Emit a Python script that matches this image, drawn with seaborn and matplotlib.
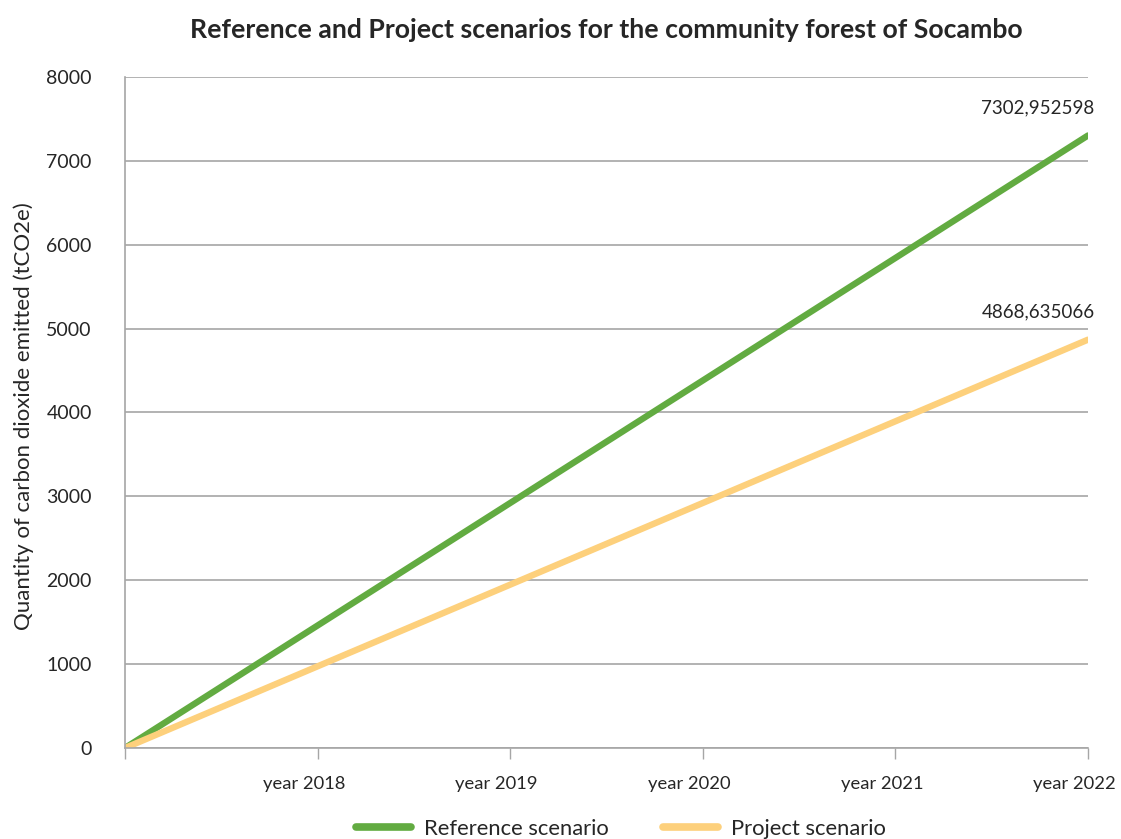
import matplotlib
matplotlib.use("Agg")
import matplotlib.pyplot as plt
import seaborn as sns
import pandas as pd

categories = ["", "year 2018", "year 2019", "year 2020", "year 2021", "year 2022"]
reference = [0, 1460.59, 2921.18, 4381.77, 5842.36, 7302.952598]
project = [0, 973.73, 1947.45, 2921.18, 3894.91, 4868.635066]
series_names = ["Reference scenario", "Project scenario"]
colors = ["#62ab41", "#fdd07c"]

sns.set_theme(style="white")
plt.rcParams["font.family"] = ["Lato", "DejaVu Sans"]

rows = []
for name, vals in zip(series_names, [reference, project]):
    for i, v in enumerate(vals):
        rows.append({"pos": i, "value": v, "series": name})
df = pd.DataFrame(rows)

fig = plt.figure(figsize=(11.21, 8.39), dpi=100)
ax = fig.add_axes([125/1121, 1 - 748/839, (1088-125)/1121, (748-77)/839])

sns.lineplot(data=df, x="pos", y="value", hue="series", palette=colors,
             linewidth=4.6, ax=ax, legend=True, solid_capstyle="round")

ax.set_yticks(range(0, 8001, 1000))
ax.set_yticklabels([str(v) for v in range(0, 8001, 1000)], fontsize=14)
# tick marks at category positions, labels slightly to the left of them
ax.set_xticks(range(len(categories)))
ax.set_xticklabels([""] * len(categories))
ax.set_xticks([i - 0.07 for i in range(1, len(categories))], minor=True)
ax.set_xticklabels(categories[1:], minor=True, fontsize=13.2)
ax.tick_params(axis="x", which="major", length=8, width=1, color="#a6a6a6",
               direction="out", bottom=True)
ax.tick_params(axis="x", which="minor", length=0, pad=20, bottom=True)
ax.tick_params(axis="y", length=0, pad=24)
ax.set_xlim(0, 5)
ax.set_ylim(0, 8000)
ax.grid(axis="y", color="#a6a6a6", linewidth=1.2)
ax.set_axisbelow(True)
for s in ["top", "right"]:
    ax.spines[s].set_visible(False)
for s in ["left", "bottom"]:
    ax.spines[s].set_color("#a6a6a6")
    ax.spines[s].set_linewidth(1.2)

ax.set_xlabel("")
ax.set_ylabel("Quantity of carbon dioxide emitted (tCO2e)", fontsize=16)
ax.yaxis.set_label_coords(-0.095, 0.495)

fig.text(606/1121, 1 - 30/839, "Reference and Project scenarios for the community forest of Socambo",
         ha="center", va="center", fontsize=19.2, fontweight="bold")

for vals in [reference, project]:
    v = vals[-1]
    txt = f"{v:.6f}".replace(".", ",")
    ax.annotate(txt, xy=(5, v), xytext=(-36, 14), textcoords="offset points",
                ha="center", va="bottom", fontsize=13.5)

handles, labels = ax.get_legend_handles_labels()
for h in handles:
    h.set_solid_capstyle("round")
    h.set_linewidth(5.5)
ax.legend(handles, labels, loc="center", bbox_to_anchor=(0.515, -0.12),
          ncol=2, frameon=False, fontsize=15.8, handlelength=2.5,
          handletextpad=0.6, columnspacing=2.5)

fig.savefig("out.png", dpi=100)
